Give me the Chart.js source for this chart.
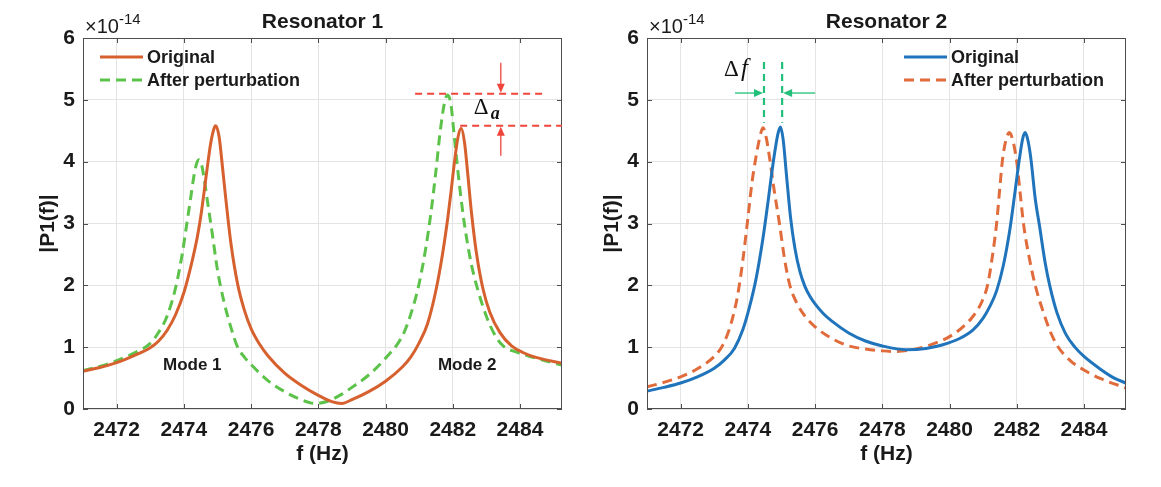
<!DOCTYPE html>
<html>
<head>
<meta charset="utf-8">
<script src="https://cdn.jsdelivr.net/npm/chart.js@4.4.1/dist/chart.umd.min.js"></script>
<style>
  html, body { margin: 0; padding: 0; background: #fff; }
  #wrap { position: relative; width: 1161px; height: 487px; }
  canvas { position: absolute; top: 0; }
</style>
</head>
<body>
<div id="wrap">
  <canvas id="c1" width="564" height="487" style="left:0"></canvas>
  <canvas id="c2" width="597" height="487" style="left:564px"></canvas>
</div>
<script>
// axis ticks
const xTicks = [2472, 2474, 2476, 2478, 2480, 2482, 2484];
const yTicks = [0, 1, 2, 3, 4, 5, 6];
const xMin = 2471, xMax = 2485.25;

// Resonator 1 - original
const r1OrigF = [2471, 2471.5, 2472, 2472.5, 2473, 2473.25, 2473.5, 2473.75, 2474, 2474.25, 2474.4, 2474.5,
  2474.6, 2474.7, 2474.8, 2474.9, 2474.95, 2475.05, 2475.15, 2475.25, 2475.4, 2475.6, 2475.8, 2476, 2476.25,
  2476.5, 2477, 2477.5, 2478, 2478.4, 2478.7, 2479, 2479.5, 2480, 2480.5, 2480.75, 2481, 2481.25, 2481.5,
  2481.7, 2481.85, 2481.95, 2482.05, 2482.15, 2482.25, 2482.35, 2482.45, 2482.55, 2482.7, 2482.9, 2483.1,
  2483.4, 2483.75, 2484.1, 2484.5, 2485.25];
const r1OrigP = [0.61, 0.67, 0.75, 0.86, 0.99, 1.1, 1.27, 1.52, 1.88, 2.4, 2.78, 3.1,
  3.5, 3.92, 4.3, 4.54, 4.58, 4.4, 3.91, 3.39, 2.68, 2.02, 1.6, 1.3, 1.05,
  0.86, 0.58, 0.38, 0.22, 0.12, 0.09, 0.15, 0.28, 0.45, 0.68, 0.84, 1.07, 1.38, 1.92,
  2.52, 3.08, 3.52, 3.99, 4.38, 4.54, 4.31, 3.78, 3.21, 2.54, 1.94, 1.57,
  1.24, 1.02, 0.91, 0.83, 0.74];

// Resonator 1 - after perturbation
const r1PertF = [2471, 2471.5, 2472, 2472.5, 2473, 2473.25, 2473.5, 2473.75, 2473.95, 2474.1, 2474.2, 2474.3,
  2474.38, 2474.45, 2474.52, 2474.6, 2474.7, 2474.85, 2475, 2475.2, 2475.4, 2475.6, 2475.8, 2476, 2476.5,
  2477, 2477.5, 2477.9, 2478.3, 2478.7, 2479, 2479.5, 2480, 2480.5, 2480.75, 2481, 2481.2, 2481.35, 2481.5,
  2481.62, 2481.75, 2481.85, 2481.95, 2482.05, 2482.2, 2482.35, 2482.55, 2482.75, 2483, 2483.25, 2483.5,
  2483.9, 2484.3, 2484.75, 2485.25];
const r1PertP = [0.62, 0.69, 0.78, 0.9, 1.06, 1.24, 1.5, 1.95, 2.5, 3.04, 3.4, 3.77,
  3.97, 4.03, 3.97, 3.74, 3.37, 2.82, 2.25, 1.72, 1.32, 1.0, 0.84, 0.72, 0.46,
  0.28, 0.15, 0.09, 0.13, 0.24, 0.35, 0.55, 0.82, 1.18, 1.53, 2.03, 2.61, 3.17, 3.85,
  4.46, 4.94, 5.08, 4.91, 4.38, 3.62, 2.98, 2.35, 1.92, 1.5, 1.2, 1.02,
  0.92, 0.85, 0.78, 0.71];

// Resonator 2 - original
const r2OrigF = [2471, 2471.5, 2472, 2472.5, 2473, 2473.3, 2473.6, 2473.85, 2474.05, 2474.25, 2474.45, 2474.6,
  2474.72, 2474.82, 2474.9, 2474.97, 2475.05, 2475.15, 2475.27, 2475.4, 2475.55, 2475.7, 2475.85, 2476, 2476.25,
  2476.5, 2477, 2477.5, 2478, 2478.7, 2479.3, 2479.8, 2480.3, 2480.7, 2481, 2481.2, 2481.4, 2481.6, 2481.8,
  2481.95, 2482.08, 2482.18, 2482.25, 2482.33, 2482.42, 2482.55, 2482.68, 2482.85, 2482.98, 2483.2, 2483.45,
  2483.73, 2484, 2484.5, 2484.9, 2485.25];
const r2OrigP = [0.29, 0.35, 0.42, 0.52, 0.66, 0.79, 0.98, 1.28, 1.65, 2.12, 2.76, 3.35,
  3.85, 4.22, 4.46, 4.56, 4.36, 3.78, 3.1, 2.6, 2.22, 1.98, 1.82, 1.7, 1.54,
  1.42, 1.23, 1.1, 1.02, 0.96, 0.98, 1.04, 1.14, 1.28, 1.47, 1.66, 1.91, 2.32, 2.92,
  3.52, 4.05, 4.38, 4.47, 4.35, 4.05, 3.4, 2.95, 2.35, 2.0, 1.55, 1.22,
  1.0, 0.85, 0.64, 0.5, 0.42];

// Resonator 2 - after perturbation
const r2PertF = [2471, 2471.5, 2472, 2472.5, 2473, 2473.25, 2473.5, 2473.7, 2473.85, 2474, 2474.12, 2474.25,
  2474.35, 2474.45, 2474.55, 2474.65, 2474.78, 2474.94, 2475.1, 2475.25, 2475.45, 2475.7, 2476, 2476.5,
  2477, 2477.5, 2478, 2478.4, 2479, 2479.5, 2480, 2480.4, 2480.7, 2480.95, 2481.13, 2481.27, 2481.4, 2481.5,
  2481.58, 2481.68, 2481.78, 2481.88, 2482, 2482.1, 2482.2, 2482.37, 2482.55, 2482.8, 2483, 2483.21,
  2483.6, 2484, 2484.5, 2485.25];
const r2PertP = [0.36, 0.43, 0.52, 0.65, 0.85, 1.03, 1.38, 1.85, 2.4, 3.08, 3.65, 4.1,
  4.38, 4.55, 4.38, 4.05, 3.55, 3.0, 2.4, 2.0, 1.72, 1.5, 1.33, 1.14,
  1.02, 0.97, 0.94, 0.93, 0.97, 1.05, 1.17, 1.33, 1.5, 1.72, 2.0, 2.45, 3.0, 3.6,
  4.05, 4.35, 4.47, 4.35, 4.0, 3.5, 3.0, 2.45, 2.0, 1.55, 1.25, 1.02,
  0.78, 0.63, 0.49, 0.34];

const legendLabels = ['Original', 'After perturbation'];
const modeLabels = ['Mode 1', 'Mode 2'];
const modeAt = [[2474.25, 0.7], [2482.43, 0.7]];

// annotation values (data units)
const deltaA = { topLevel: 5.10, lowLevel: 4.58, arrowF: 2483.43, topFrom: 2480.88, topTo: 2484.66, lowFrom: 2482.22 };
const deltaF = { f1: 2474.48, f2: 2475.02, yTop: 5.61, yBot: 4.63, arrowY: 5.11 };

const FONT = "'Liberation Sans', Arial, sans-serif";
const SERIF = "'Liberation Serif', 'Times New Roman', serif";

const pts = (f, p) => f.map((v, i) => ({ x: v, y: p[i] }));

function arrow(ctx, x1, y1, x2, y2, color) {
  const a = Math.atan2(y2 - y1, x2 - x1);
  ctx.strokeStyle = color; ctx.fillStyle = color; ctx.lineWidth = 1.3; ctx.setLineDash([]);
  ctx.beginPath(); ctx.moveTo(x1, y1); ctx.lineTo(x2 - 7 * Math.cos(a), y2 - 7 * Math.sin(a)); ctx.stroke();
  ctx.beginPath();
  ctx.moveTo(x2, y2);
  ctx.lineTo(x2 - 9 * Math.cos(a) + 4 * Math.sin(a), y2 - 9 * Math.sin(a) - 4 * Math.cos(a));
  ctx.lineTo(x2 - 9 * Math.cos(a) - 4 * Math.sin(a), y2 - 9 * Math.sin(a) + 4 * Math.cos(a));
  ctx.closePath(); ctx.fill();
}

const decor = {
  id: 'decor',
  afterDraw(chart, args, opts) {
    const { ctx, chartArea: { left, top, right, bottom }, scales: { x, y } } = chart;
    ctx.save();
    // frame + inward ticks
    ctx.strokeStyle = '#4d4d4d'; ctx.lineWidth = 1;
    ctx.strokeRect(left + 0.5, top + 0.5, right - left - 1, bottom - top - 1);
    ctx.beginPath();
    xTicks.forEach(v => {
      const px = Math.round(x.getPixelForValue(v)) + 0.5;
      ctx.moveTo(px, bottom); ctx.lineTo(px, bottom - 5);
      ctx.moveTo(px, top); ctx.lineTo(px, top + 5);
    });
    yTicks.forEach(v => {
      const py = Math.round(y.getPixelForValue(v)) + 0.5;
      ctx.moveTo(left, py); ctx.lineTo(left + 5, py);
      ctx.moveTo(right, py); ctx.lineTo(right - 5, py);
    });
    ctx.stroke();

    // title
    ctx.fillStyle = '#1a1a1a';
    ctx.font = `bold 21px ${FONT}`;
    ctx.textAlign = 'center'; ctx.textBaseline = 'middle';
    ctx.fillText(opts.title, (left + right) / 2, 22);

    // exponent
    ctx.textAlign = 'left'; ctx.textBaseline = 'alphabetic';
    ctx.font = `20px ${FONT}`;
    ctx.fillText('\u00d710', left + 2, 33);
    const w = ctx.measureText('\u00d710').width;
    ctx.font = `15px ${FONT}`;
    ctx.fillText('-14', left + 2 + w, 24);

    // legend
    ctx.font = `bold 18px ${FONT}`;
    ctx.textBaseline = 'middle';
    chart.data.datasets.forEach((ds, i) => {
      const ly = 57 + i * 23;
      const lx = left + opts.legendX;
      ctx.strokeStyle = ds.borderColor; ctx.lineWidth = 3;
      ctx.setLineDash(ds.borderDash || []);
      ctx.beginPath(); ctx.moveTo(lx, ly); ctx.lineTo(lx + 43, ly); ctx.stroke();
      ctx.setLineDash([]);
      ctx.fillStyle = '#1a1a1a';
      ctx.fillText(legendLabels[i], lx + 47, ly + 1);
    });

    if (opts.modes) {
      ctx.font = `bold 17px ${FONT}`;
      ctx.textAlign = 'center';
      modeLabels.forEach((m, i) => {
        ctx.fillText(m, x.getPixelForValue(modeAt[i][0]), y.getPixelForValue(modeAt[i][1]));
      });
    }

    if (opts.deltaA) {
      const red = '#f0453a';
      const yt = y.getPixelForValue(deltaA.topLevel), yl = y.getPixelForValue(deltaA.lowLevel);
      ctx.strokeStyle = red; ctx.lineWidth = 2; ctx.setLineDash([7, 5]);
      ctx.beginPath();
      ctx.moveTo(x.getPixelForValue(deltaA.topFrom), yt); ctx.lineTo(x.getPixelForValue(deltaA.topTo), yt);
      ctx.moveTo(x.getPixelForValue(deltaA.lowFrom), yl); ctx.lineTo(right, yl);
      ctx.stroke();
      const ax = x.getPixelForValue(deltaA.arrowF);
      arrow(ctx, ax, yt - 31, ax, yt - 1, red);
      arrow(ctx, ax, yl + 30, ax, yl + 1, red);
      ctx.fillStyle = '#111'; ctx.textAlign = 'left'; ctx.textBaseline = 'alphabetic';
      ctx.font = `23px ${SERIF}`;
      ctx.fillText('\u0394', ax - 27, yt + 20);
      ctx.font = `italic bold 18px ${SERIF}`;
      ctx.fillText('a', ax - 10, yt + 25);
    }

    if (opts.deltaF) {
      const green = '#22c07a';
      const x1 = x.getPixelForValue(deltaF.f1), x2 = x.getPixelForValue(deltaF.f2);
      const yt = y.getPixelForValue(deltaF.yTop), yb = y.getPixelForValue(deltaF.yBot);
      ctx.strokeStyle = green; ctx.lineWidth = 2.2; ctx.setLineDash([7, 5]);
      ctx.beginPath();
      ctx.moveTo(x1, yt); ctx.lineTo(x1, yb);
      ctx.moveTo(x2, yt); ctx.lineTo(x2, yb);
      ctx.stroke();
      const ay = y.getPixelForValue(deltaF.arrowY);
      arrow(ctx, x1 - 29, ay, x1 - 1, ay, green);
      arrow(ctx, x2 + 33, ay, x2 + 1, ay, green);
      ctx.fillStyle = '#111'; ctx.textAlign = 'left'; ctx.textBaseline = 'alphabetic';
      ctx.font = `23px ${SERIF}`;
      ctx.fillText('\u0394', x1 - 40, ay - 17);
      ctx.font = `italic 25px ${SERIF}`;
      ctx.fillText('f', x1 - 23, ay - 17);
    }
    ctx.restore();
  }
};

function makeChart(id, datasets, padRight, decorOpts) {
  return new Chart(document.getElementById(id), {
    type: 'line',
    data: { datasets },
    options: {
      responsive: false,
      animation: false,
      layout: { padding: { top: 38, right: padRight, bottom: 0, left: 0 } },
      elements: { point: { radius: 0 }, line: { borderWidth: 3, cubicInterpolationMode: 'monotone' } },
      plugins: { legend: { display: false }, tooltip: { enabled: false }, decor: decorOpts },
      scales: {
        x: {
          type: 'linear', min: xMin, max: xMax,
          afterBuildTicks: s => { s.ticks = xTicks.map(v => ({ value: v })); },
          afterFit: s => { s.height = 78; },
          grid: { color: '#e4e4e4', drawTicks: false },
          border: { display: false },
          ticks: { padding: 9, color: '#1a1a1a', callback: v => String(v),
            font: { family: FONT, size: 21, weight: 'bold' } },
          title: { display: true, text: 'f (Hz)', color: '#1a1a1a', padding: { top: 0, bottom: 20 },
            font: { family: FONT, size: 21, weight: 'bold' } }
        },
        y: {
          min: 0, max: 6,
          afterBuildTicks: s => { s.ticks = yTicks.map(v => ({ value: v })); },
          afterFit: s => { s.width = 83; },
          grid: { color: '#e4e4e4', drawTicks: false },
          border: { display: false },
          ticks: { padding: 8, color: '#1a1a1a', callback: v => String(v),
            font: { family: FONT, size: 21, weight: 'bold' } },
          title: { display: true, text: '|P1(f)|', color: '#1a1a1a', padding: { top: 36, bottom: 0 },
            font: { family: FONT, size: 21, weight: 'bold' } }
        }
      }
    },
    plugins: [decor]
  });
}

makeChart('c1', [
  { label: legendLabels[0], data: pts(r1OrigF, r1OrigP), borderColor: '#d6612f', backgroundColor: '#d6612f' },
  { label: legendLabels[1], data: pts(r1PertF, r1PertP), borderColor: '#5cc24a', backgroundColor: '#5cc24a', borderDash: [10, 6] }
], 2, { title: 'Resonator 1', legendX: 17, modes: true, deltaA: true });

makeChart('c2', [
  { label: legendLabels[0], data: pts(r2OrigF, r2OrigP), borderColor: '#1f74bb', backgroundColor: '#1f74bb' },
  { label: legendLabels[1], data: pts(r2PertF, r2PertP), borderColor: '#e06c3c', backgroundColor: '#e06c3c', borderDash: [10, 6] }
], 35, { title: 'Resonator 2', legendX: 257, deltaF: true });
</script>
</body>
</html>
